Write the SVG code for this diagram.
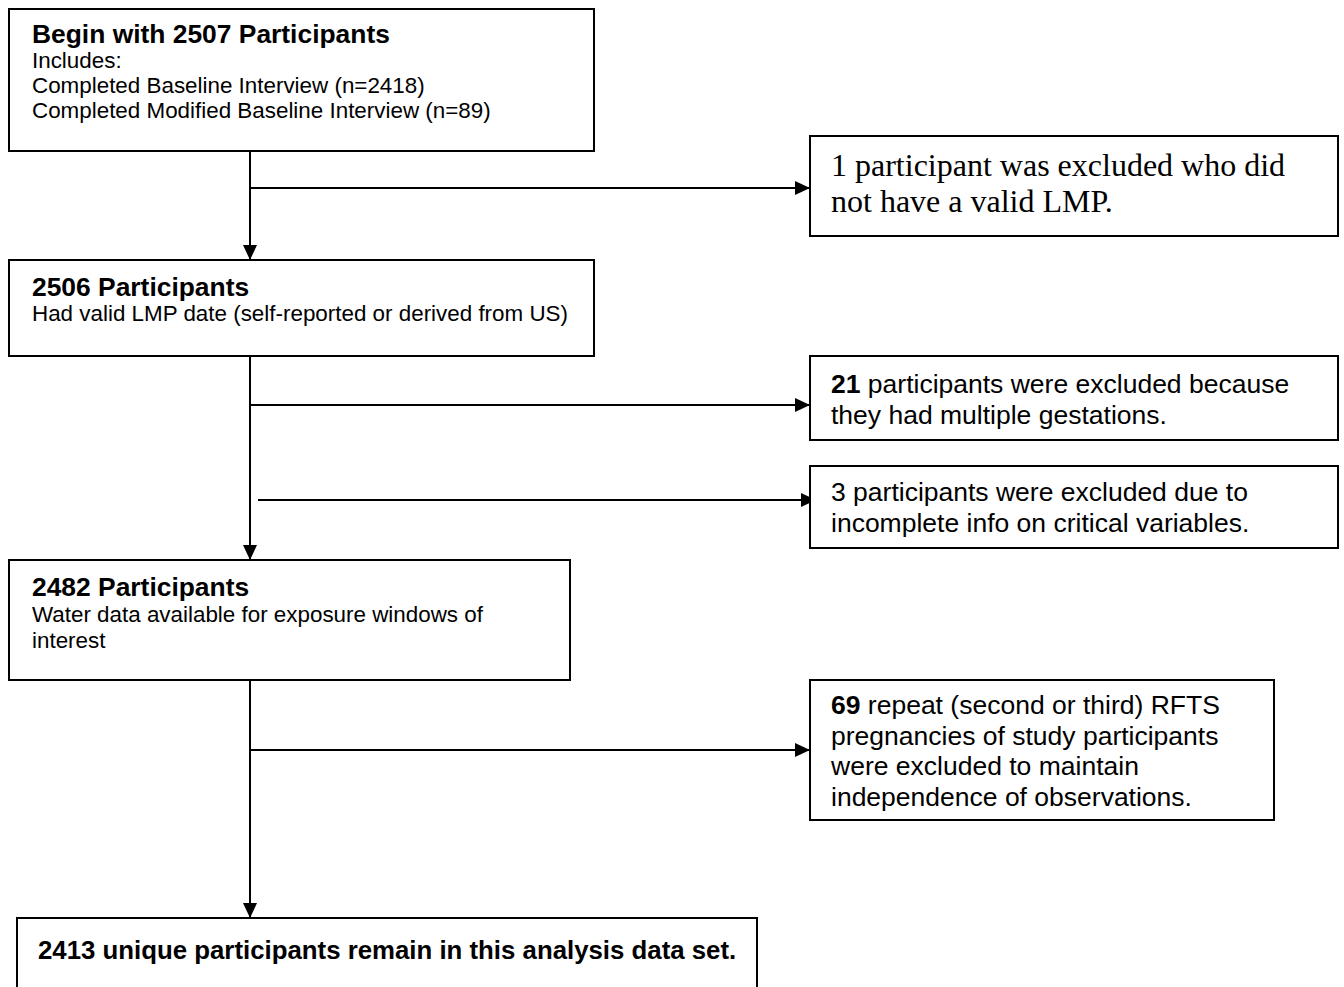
<svg xmlns="http://www.w3.org/2000/svg" width="1344" height="987" viewBox="0 0 1344 987">
<defs>
<marker id="arr" markerUnits="userSpaceOnUse" markerWidth="16" markerHeight="14" refX="15" refY="7" orient="auto">
<path d="M0,0 L15,7 L0,14 Z" fill="#000"/>
</marker>
<style>
.box{fill:#fff;stroke:#000;stroke-width:2}
.t{font-family:"Liberation Sans",Arial,sans-serif;fill:#000}
.title{font-size:26.4px;font-weight:bold}
.reg{font-size:22.4px}
.rt{font-size:26.5px}
.fin{font-size:25.8px;font-weight:bold}
.serif{font-family:"Liberation Serif","Times New Roman",serif;font-size:32px;fill:#000}
.b{font-weight:bold}
.ln{stroke:#000;stroke-width:2;fill:none}
</style>
</defs>
<rect width="1344" height="987" fill="#fff"/>
<g id="connectors">
<line class="ln" x1="250" y1="151" x2="250" y2="260" marker-end="url(#arr)"/>
<line class="ln" x1="250" y1="188" x2="810" y2="188" marker-end="url(#arr)"/>
<line class="ln" x1="250" y1="356" x2="250" y2="560" marker-end="url(#arr)"/>
<line class="ln" x1="250" y1="405" x2="810" y2="405" marker-end="url(#arr)"/>
<line class="ln" x1="258" y1="500" x2="816" y2="500" marker-end="url(#arr)"/>
<line class="ln" x1="250" y1="680" x2="250" y2="918" marker-end="url(#arr)"/>
<line class="ln" x1="250" y1="750" x2="810" y2="750" marker-end="url(#arr)"/>
</g>
<g id="n_start">
<rect class="box" x="9" y="9" width="585" height="142"/>
<text class="t title" x="32" y="43">Begin with 2507 Participants</text>
<text class="t reg" x="32" y="68">Includes:</text>
<text class="t reg" x="32" y="93">Completed Baseline Interview (n=2418)</text>
<text class="t reg" x="32" y="118">Completed Modified Baseline Interview (n=89)</text>
</g>
<g id="n_excl1">
<rect class="box" x="810" y="136" width="528" height="100"/>
<text class="serif" x="831" y="176">1 participant was excluded who did</text>
<text class="serif" x="831" y="212">not have a valid LMP.</text>
</g>
<g id="n_2506">
<rect class="box" x="9" y="260" width="585" height="96"/>
<text class="t title" x="32" y="296">2506 Participants</text>
<text class="t reg" x="32" y="321">Had valid LMP date (self-reported or derived from US)</text>
</g>
<g id="n_excl21">
<rect class="box" x="810" y="356" width="528" height="84"/>
<text class="t rt" x="831" y="393"><tspan class="b">21</tspan> participants were excluded because</text>
<text class="t rt" x="831" y="424">they had multiple gestations.</text>
</g>
<g id="n_excl3">
<rect class="box" x="810" y="466" width="528" height="82"/>
<text class="t rt" x="831" y="501">3 participants were excluded due to</text>
<text class="t rt" x="831" y="532">incomplete info on critical variables.</text>
</g>
<g id="n_2482">
<rect class="box" x="9" y="560" width="561" height="120"/>
<text class="t title" x="32" y="596">2482 Participants</text>
<text class="t reg" x="32" y="622">Water data available for exposure windows of</text>
<text class="t reg" x="32" y="648">interest</text>
</g>
<g id="n_excl69">
<rect class="box" x="810" y="680" width="464" height="140"/>
<text class="t rt" x="831" y="714"><tspan class="b">69</tspan> repeat (second or third) RFTS</text>
<text class="t rt" x="831" y="745">pregnancies of study participants</text>
<text class="t rt" x="831" y="775">were excluded to maintain</text>
<text class="t rt" x="831" y="806">independence of observations.</text>
</g>
<g id="n_final">
<rect class="box" x="17" y="918" width="740" height="90"/>
<text class="t fin" x="38" y="959">2413 unique participants remain in this analysis data set.</text>
</g>
</svg>
